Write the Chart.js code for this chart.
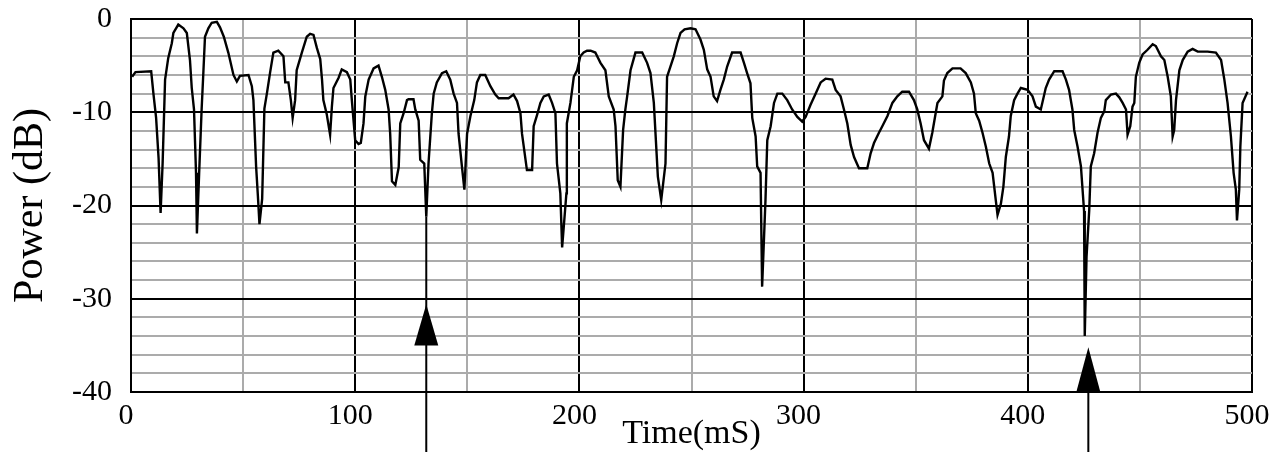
<!DOCTYPE html>
<html>
<head>
<meta charset="utf-8">
<script src="https://cdn.jsdelivr.net/npm/chart.js@4"></script>
<style>
  body { margin: 0; background: #fff; }
  #caja { width: 1270px; height: 452px; }
</style>
</head>
<body>
<div id="caja"><canvas id="grafica"></canvas></div>
<script>
// datos (tiempo en mS, potencia en dB)
const tiempos = [
  0.5, 2, 9, 10, 11.2, 12.3, 13.2, 14.1, 15.2, 16.6, 18.2, 18.9, 21.1, 23.4, 24.9, 26.3, 27.1, 28.1, 29.0, 29.4,
  30.4, 31.5, 32.3, 33.0, 34.5, 36.0, 38.3, 39.7, 41.4, 43.4, 45.7, 47.2, 48.6, 52.4, 53.9, 54.6, 55.8, 56.6, 57.3, 58.5,
  59.5, 60.6, 62.0, 63.5, 65.7, 68.0, 68.8, 70.2, 71.3, 72.1, 73.2, 73.9, 76.2, 78.4, 79.9, 81.4, 82.9, 84.4, 85.2, 85.8,
  87.3, 88.8, 89.6, 90.3, 92.6, 94.0, 96.3, 97.8, 98.5, 100.0, 101.5, 102.5, 103.7, 104.5, 106.0, 108.2, 110.4, 111.9, 113.4, 114.9,
  115.6, 116.4, 117.9, 119.4, 120.1, 121.6, 123.1, 123.8, 126.0, 126.8, 128.3, 129.0, 130.8, 131.7, 132.7, 134.2, 135.0, 136.4, 138.7, 140.6,
  142.4, 143.9, 145.4, 146.1, 147.6, 148.7, 149.9, 151.4, 153.1, 154.3, 155.8, 158.0, 160.3, 162.5, 164.0, 168.4, 170.6, 172.2, 173.7, 174.4,
  176.6, 178.9, 179.6, 181.1, 182.6, 184.1, 186.3, 187.8, 189.3, 190.0, 191.5, 192.3, 194.2, 194.4, 196.0, 197.5, 199.0, 200.4, 201.9, 203.4,
  205.0, 207.1, 209.4, 211.6, 213.1, 215.3, 216.1, 217.1, 218.3, 219.5, 220.5, 221.3, 222.8, 225.0, 228.0, 230.2, 231.7, 233.2, 235.0, 236.5,
  238.4, 239.1, 240.6, 242.1, 243.6, 245.1, 246.9, 249.6, 251.8, 254.0, 255.5, 257.0, 258.5, 259.9, 261.4, 262.9, 264.4, 265.9, 268.1, 271.9,
  273.4, 274.8, 276.3, 277.1, 278.6, 279.3, 280.8, 281.5, 283.0, 283.8, 285.3, 286.8, 288.3, 290.5, 292.7, 294.9, 297.2, 299.4, 300.9, 303.1,
  305.4, 307.6, 309.8, 312.8, 314.3, 316.5, 318.0, 319.5, 321.0, 322.5, 324.7, 328.4, 329.9, 331.4, 333.6, 335.1, 337.4, 339.6, 341.8, 344.0,
  347.0, 349.2, 350.7, 352.2, 353.7, 355.9, 357.4, 358.9, 359.7, 361.9, 362.6, 364.1, 366.4, 370.0, 372.3, 374.6, 376.0, 376.8, 378.3, 379.8,
  381.3, 382.8, 384.3, 385.7, 386.5, 388.0, 389.1, 390.2, 391.6, 392.4, 393.9, 395.4, 396.9, 399.9, 402.1, 403.6, 405.8, 408.0, 409.5, 411.8,
  415.5, 417.0, 418.4, 419.9, 420.7, 422.2, 423.7, 424.4, 425.1, 425.4, 426.2, 427.4, 428.1, 429.6, 431.1, 432.6, 434.1, 434.8, 437.1, 439.3,
  440.8, 442.3, 443.8, 444.5, 445.7, 446.7, 447.5, 448.2, 449.7, 451.2, 453.4, 455.7, 457.1, 459.4, 460.9, 462.4, 463.8, 464.6, 465.3, 466.1,
  467.6, 469.1, 471.3, 473.5, 475.8, 480.2, 483.9, 486.2, 487.6, 489.1, 490.6, 491.8, 492.8, 493.3, 494.3, 494.8, 495.8, 498.0
];
const potencia = [
  -6.2, -5.7, -5.6, -8.0, -10.6, -14.9, -20.8, -15.5, -6.5, -4.2, -2.6, -1.5, -0.6, -1.0, -1.5, -4.4, -7.4, -9.7, -16.5, -23.0,
  -16.5, -9.7, -5.6, -1.9, -1.0, -0.4, -0.3, -0.9, -1.9, -3.6, -6.0, -6.7, -6.1, -6.0, -7.2, -8.7, -15.8, -19.0, -22.0, -19.3,
  -9.6, -8.0, -5.8, -3.6, -3.4, -4.0, -6.8, -6.8, -8.7, -10.6, -8.7, -5.5, -3.6, -1.9, -1.6, -1.7, -3.1, -4.3, -6.5, -8.7,
  -10.2, -12.4, -9.4, -7.4, -6.3, -5.4, -5.7, -6.5, -8.7, -13.0, -13.4, -13.3, -11.2, -8.3, -6.5, -5.3, -5.0, -6.2, -7.6, -9.7,
  -12.3, -17.4, -17.8, -15.9, -11.2, -10.1, -8.7, -8.6, -8.6, -9.7, -10.9, -15.1, -15.5, -21.2, -15.5, -10.1, -8.0, -6.8, -5.8, -5.6,
  -6.5, -8.0, -9.0, -12.3, -15.8, -18.3, -12.3, -10.4, -8.7, -6.8, -6.0, -6.0, -7.2, -8.1, -8.5, -8.5, -8.1, -8.8, -10.1, -12.3,
  -16.2, -16.2, -11.5, -10.3, -9.0, -8.3, -8.1, -9.0, -10.1, -15.5, -18.7, -24.5, -18.7, -11.2, -9.0, -6.2, -5.5, -4.0, -3.6, -3.4,
  -3.4, -3.6, -4.7, -5.5, -8.3, -9.7, -11.5, -17.3, -18.0, -11.9, -9.7, -8.3, -5.5, -3.6, -3.6, -4.7, -5.8, -9.0, -16.9, -19.4,
  -15.5, -6.2, -5.1, -4.0, -2.6, -1.5, -1.1, -1.0, -1.1, -2.2, -3.3, -5.4, -6.2, -8.3, -8.8, -7.6, -6.5, -5.1, -3.6, -3.6,
  -4.7, -5.8, -6.9, -10.6, -12.6, -15.8, -16.5, -28.7, -19.4, -13.0, -11.5, -9.0, -8.0, -8.0, -8.7, -9.7, -10.5, -11.0, -10.5, -9.2,
  -8.0, -6.8, -6.4, -6.5, -7.6, -8.3, -9.7, -11.2, -13.5, -14.8, -16.0, -16.0, -14.4, -13.3, -12.2, -11.5, -10.4, -9.0, -8.3, -7.8,
  -7.8, -8.7, -9.7, -11.2, -13.0, -13.9, -12.2, -10.1, -9.0, -8.3, -6.6, -5.8, -5.3, -5.3, -5.8, -6.8, -8.0, -10.1, -10.9, -12.2,
  -13.7, -15.5, -16.5, -19.4, -21.0, -19.8, -18.0, -14.8, -12.6, -10.4, -8.7, -8.0, -7.4, -7.6, -8.3, -9.4, -9.7, -7.4, -6.5, -5.6,
  -5.6, -6.5, -7.6, -9.7, -11.9, -13.7, -15.8, -18.2, -20.6, -34.0, -25.5, -20.5, -15.8, -14.4, -12.2, -10.6, -9.9, -8.7, -8.1, -8.0,
  -8.4, -9.0, -9.7, -12.4, -11.5, -9.4, -9.0, -6.2, -4.7, -3.8, -3.3, -2.7, -2.9, -4.0, -4.4, -6.2, -8.3, -12.6, -11.9, -8.7,
  -5.5, -4.4, -3.5, -3.2, -3.5, -3.5, -3.6, -4.4, -6.4, -9.0, -12.6, -16.5, -18.3, -21.6, -18.3, -13.7, -9.0, -7.8
];

// marcas de flecha (tiempo, punta, base del triangulo, arranque de la linea)
const flechasTiempo = [131.7, 427.0];
const flechasPunta = [-30.6, -35.2];
const flechasBase = [-35.0, -40.0];
const lineaArriba = [-21.2, -40.0];
const lineaAbajo = -47;

// ejes
const xTicks = [0, 100, 200, 300, 400, 500];
const yTicks = [0, -10, -20, -30, -40];

const puntos = tiempos.map((t, i) => ({ x: t, y: potencia[i] }));

const datasets = [{
    data: puntos,
    borderColor: '#000',
    borderWidth: 2.4,
    pointRadius: 0,
    tension: 0
}];
flechasTiempo.forEach((t, i) => {
    datasets.push({
        data: [{ x: t, y: lineaArriba[i] }, { x: t, y: lineaAbajo }],
        borderColor: '#000',
        borderWidth: 2,
        pointRadius: 0,
        clip: false
    });
});

// dibuja los triangulos de las flechas con las escalas del grafico
const pluginFlechas = {
    id: 'flechas',
    afterDatasetsDraw(chart) {
        const ctx = chart.ctx;
        const x = chart.scales.x, y = chart.scales.y;
        ctx.save();
        ctx.fillStyle = '#000';
        flechasTiempo.forEach((t, i) => {
            const px = x.getPixelForValue(t);
            const top = y.getPixelForValue(flechasPunta[i]);
            const bot = y.getPixelForValue(flechasBase[i]);
            ctx.beginPath();
            ctx.moveTo(px, top);
            ctx.lineTo(px + 12, bot);
            ctx.lineTo(px - 12, bot);
            ctx.closePath();
            ctx.fill();
        });
        ctx.restore();
    }
};

const fuente = 'Liberation Serif, Times New Roman, serif';

new Chart(document.getElementById('grafica').getContext('2d'), {
    type: 'line',
    data: { datasets: datasets },
    options: {
        responsive: true,
        maintainAspectRatio: false,
        animation: false,
        layout: { padding: { top: 19, right: 18, left: 0, bottom: 0 } },
        plugins: { legend: { display: false }, tooltip: { enabled: false } },
        scales: {
            x: {
                type: 'linear',
                min: 0,
                max: 500,
                afterFit: (s) => { s.height = 60; s.paddingLeft = 0; s.paddingRight = 0; },
                ticks: {
                    stepSize: 50,
                    autoSkip: false,
                    maxRotation: 0,
                    padding: 6,
                    labelOffset: -5,
                    color: '#000',
                    font: { family: fuente, size: 30 },
                    callback: (v) => xTicks.includes(v) ? String(v) : ''
                },
                grid: {
                    drawTicks: false,
                    color: (c) => c.tick && c.tick.value % 100 === 0 ? '#000' : '#ababab',
                    lineWidth: 2
                },
                border: { color: '#000', width: 2 },
                title: {
                    display: true,
                    text: 'Time(mS)',
                    color: '#000',
                    font: { family: fuente, size: 34 },
                    padding: { top: 0, bottom: -2 }
                }
            },
            y: {
                min: -40,
                max: 0,
                afterFit: (s) => { s.width = 131; s.paddingTop = 0; s.paddingBottom = 0; },
                ticks: {
                    stepSize: 2,
                    autoSkip: false,
                    padding: 19,
                    color: '#000',
                    font: { family: fuente, size: 30 },
                    callback: (v) => yTicks.includes(v) ? String(v) : ''
                },
                grid: {
                    drawTicks: false,
                    color: (c) => c.tick && c.tick.value % 10 === 0 ? '#000' : '#ababab',
                    lineWidth: 2
                },
                border: { color: '#000', width: 2 },
                title: {
                    display: true,
                    text: 'Power (dB)',
                    color: '#000',
                    font: { family: fuente, size: 42 },
                    padding: { top: 6, bottom: 0 }
                }
            }
        }
    },
    plugins: [pluginFlechas]
});
</script>
</body>
</html>
